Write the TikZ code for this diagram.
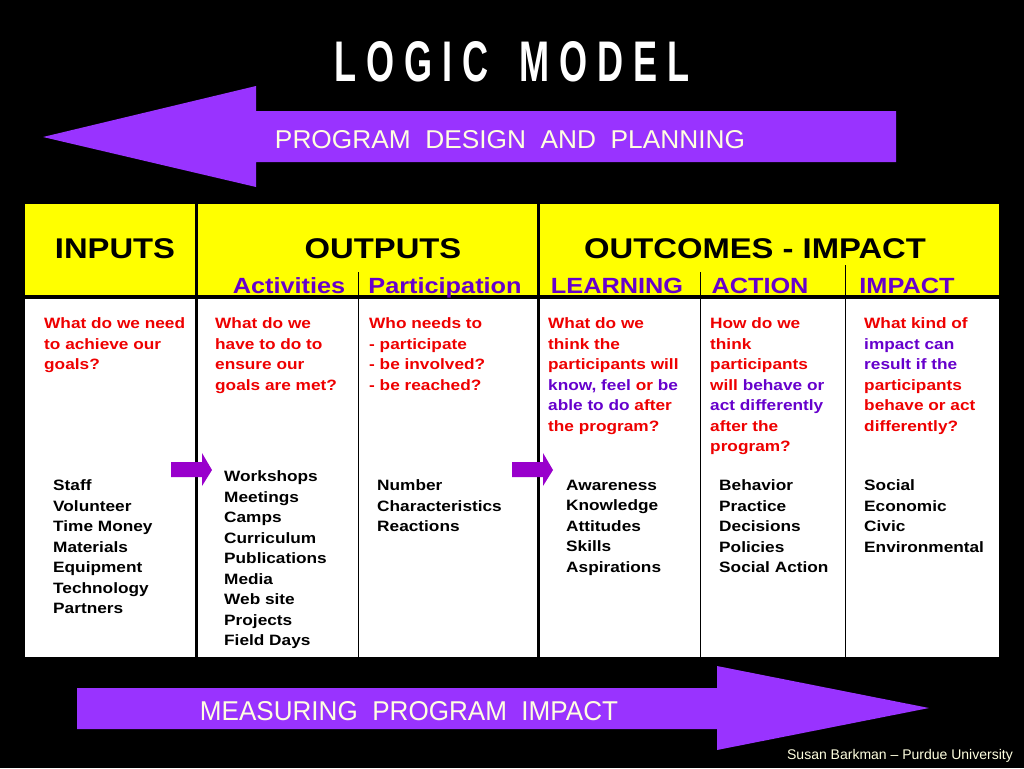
\documentclass[tikz,border=0pt]{standalone}
\usepackage{fontspec}
\setmainfont{Liberation Sans}[FakeStretch=1.15]
\newfontfamily\plainfont{Liberation Sans}[Ligatures=TeX]
\definecolor{arrowpurple}{HTML}{9933FF}
\definecolor{smallpurple}{HTML}{9900CC}
\definecolor{txtpurple}{HTML}{6600CC}
\definecolor{qred}{HTML}{EE0000}
\definecolor{cream}{HTML}{FFFFE0}
\definecolor{hyellow}{HTML}{FFFF00}
\tikzset{
  q/.style={anchor=north west, inner sep=0pt, align=left, text=qred, font=\bfseries\fontsize{15}{20.5}\selectfont},
  item/.style={anchor=north west, inner sep=0pt, align=left, text=black, font=\bfseries\fontsize{15}{20.5}\selectfont},
  head/.style={anchor=base, inner sep=0pt, text=black, font=\bfseries\fontsize{28.5}{30}\selectfont},
  sub/.style={anchor=base, inner sep=0pt, text=txtpurple, font=\bfseries\fontsize{22}{24}\selectfont},
  bigarrow/.style={fill=arrowpurple},
  smallarrow/.style={fill=smallpurple},
  thickrule/.style={line width=3pt, black},
  thinrule/.style={line width=1pt, black},
  banner/.style={inner sep=0pt, text=cream},
}
\newcommand{\pp}[1]{\textcolor{txtpurple}{#1}}
\begin{document}
\begin{tikzpicture}[x=1pt,y=-1pt]
\useasboundingbox (0,0) rectangle (1024,768);
\fill[black] (0,0) rectangle (1024,768);

% title
\node[inner sep=0pt, text=white] (title) at (512,62)
  {\resizebox{355pt}{40pt}{\plainfont\bfseries L O G I C\ \ \ M O D E L}};

% top arrow
\path[bigarrow] (43,137) -- (256,86) -- (256,111) -- (896,111) -- (896,162)
  -- (256,162) -- (256,187) -- cycle;
\node[banner] (design) at (510,140)
  {\resizebox{470pt}{18pt}{\plainfont PROGRAM\ \ DESIGN\ \ AND\ \ PLANNING}};

% table
\fill[hyellow] (25,204) rectangle (999,297);
\fill[white] (25,299) rectangle (999,657);
\draw[line width=4pt] (25,297) -- (999,297);
\draw[thickrule] (196,204) -- (196,657);
\draw[thickrule] (538,204) -- (538,657);
\draw[thinrule] (358,272) -- (358,657);
\draw[thinrule] (700,272) -- (700,657);
\draw[thinrule] (845,265) -- (845,657);

% headers
\node[head] (inputs) at (115,258) {INPUTS};
\node[head] (outputs) at (383,258) {OUTPUTS};
\node[head] (outcomes) at (755,258) {OUTCOMES - IMPACT};
\node[sub] (activities) at (289,293) {Activities};
\node[sub] (participation) at (445,293) {Participation};
\node[sub] (learning) at (617,293) {LEARNING};
\node[sub] (action) at (760,293) {ACTION};
\node[sub] (impact) at (907,293) {IMPACT};

% questions
\node[q] (q1) at (44,317.5) {What do we need\\to achieve our\\goals?};
\node[q] (q2) at (215,317.5) {What do we\\have to do to\\ensure our\\goals are met?};
\node[q] (q3) at (369,317.5) {Who needs to\\- participate\\- be involved?\\- be reached?};
\node[q] (q4) at (548,317.5) {What do we\\think the\\participants will\\\pp{know, feel} or \pp{be}\\\pp{able to do} after\\the program?};
\node[q] (q5) at (710,317.5) {How do we\\think\\participants\\will \pp{behave or}\\\pp{act differently}\\after the\\program?};
\node[q] (q6) at (864,317.5) {What kind of\\\pp{impact can}\\\pp{result if the}\\participants\\behave or act\\differently?};

% items
\node[item] (i1) at (53,479.5) {Staff\\Volunteer\\Time Money\\Materials\\Equipment\\Technology\\Partners};
\node[item] (i2) at (224,470.5) {Workshops\\Meetings\\Camps\\Curriculum\\Publications\\Media\\Web site\\Projects\\Field Days};
\node[item] (i3) at (377,479.5) {Number\\Characteristics\\Reactions};
\node[item] (i4) at (566,479.5) {Awareness\\Knowledge\\Attitudes\\Skills\\Aspirations};
\node[item] (i5) at (719,479.5) {Behavior\\Practice\\Decisions\\Policies\\Social Action};
\node[item] (i6) at (864,479.5) {Social\\Economic\\Civic\\Environmental};

% small arrows
\path[smallarrow] (171,462) -- (202,462) -- (202,453) -- (212,470) -- (202,486)
  -- (202,477) -- (171,477) -- cycle;
\path[smallarrow] (512,462) -- (543,462) -- (543,453) -- (553,470) -- (543,486)
  -- (543,477) -- (512,477) -- cycle;

% bottom arrow
\path[bigarrow] (77,688) -- (717,688) -- (717,666) -- (929,708) -- (717,750)
  -- (717,729) -- (77,729) -- cycle;
\node[banner] (measure) at (409,711.5)
  {\resizebox{418pt}{19pt}{\plainfont MEASURING\ \ PROGRAM\ \ IMPACT}};

% footer
\node[anchor=base east, inner sep=0pt, text=cream] (footer) at (1013,759)
  {\plainfont\fontsize{14}{16}\selectfont Susan Barkman – Purdue University};
\end{tikzpicture}
\end{document}
